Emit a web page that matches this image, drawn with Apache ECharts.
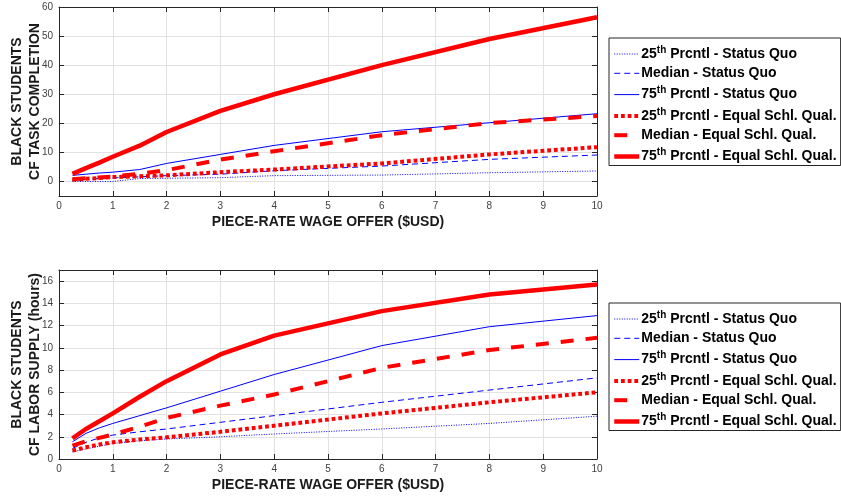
<!DOCTYPE html>
<html><head><meta charset="utf-8">
<script src="https://cdn.jsdelivr.net/npm/echarts@6/dist/echarts.min.js"></script>
<style>html,body{margin:0;padding:0;background:#fff}#c{width:841px;height:497px}</style>
</head><body><div id="c"></div>
<script>
// ---- data ----
const wage = [0.25, 0.5, 0.75, 1, 1.5, 2, 3, 4, 6, 8, 10];
const seriesNames = [
  '25th Prcntl - Status Quo',
  'Median - Status Quo',
  '75th Prcntl - Status Quo',
  '25th Prcntl - Equal Schl. Qual.',
  'Median - Equal Schl. Qual.',
  '75th Prcntl - Equal Schl. Qual.'
];
// top panel: CF task completion
const taskP25SQ  = [0, 0, 0, 0, 1.0, 1.1, 1.3, 2.0, 2.2, 3.0, 3.6];
const taskMedSQ  = [0.5, 0.8, 1.0, 1.2, 1.6, 2.0, 2.5, 3.7, 5.3, 7.6, 9.1];
const taskP75SQ  = [2.1, 2.5, 2.9, 3.2, 4.1, 6.2, 9.3, 12.4, 17.1, 20.2, 23.3];
const taskP25EQ  = [0.6, 0.9, 1.2, 1.5, 1.8, 2.1, 3.2, 4.1, 6.2, 9.3, 11.8];
const taskMedEQ  = [0.8, 1.1, 1.4, 1.7, 2.6, 3.9, 7.5, 10.4, 15.9, 20.1, 22.5];
const taskP75EQ  = [2.6, 4.6, 6.5, 8.5, 12.3, 17.0, 24.3, 30.0, 40.0, 49.0, 56.5];
// bottom panel: CF labor supply (hours)
const hoursP25SQ = [0.65, 0.9, 1.15, 1.4, 1.65, 1.8, 2.0, 2.25, 2.7, 3.2, 3.85];
const hoursMedSQ = [0.95, 1.5, 1.9, 2.15, 2.45, 2.7, 3.3, 3.9, 5.1, 6.2, 7.3];
const hoursP75SQ = [1.55, 2.3, 2.8, 3.2, 3.9, 4.6, 6.1, 7.6, 10.2, 11.9, 12.9];
const hoursP25EQ = [0.75, 1.05, 1.3, 1.5, 1.75, 1.95, 2.45, 3.0, 4.1, 5.1, 6.0];
const hoursMedEQ = [1.2, 1.6, 1.9, 2.2, 2.9, 3.7, 4.8, 5.8, 8.2, 9.8, 10.9];
const hoursP75EQ = [1.85, 2.7, 3.4, 4.1, 5.6, 7.0, 9.4, 11.1, 13.3, 14.8, 15.7];
const xTicks = [0, 1, 2, 3, 4, 5, 6, 7, 8, 9, 10];
const taskTicks = [0, 10, 20, 30, 40, 50, 60];
const hoursTicks = [0, 2, 4, 6, 8, 10, 12, 14, 16];
const xTitle = 'PIECE-RATE WAGE OFFER ($USD)';
const taskTitle = 'BLACK STUDENTS\nCF TASK COMPLETION';
const hoursTitle = 'BLACK STUDENTS\nCF LABOR SUPPLY (hours)';

// ---- styles ----
const FONT = '"Liberation Sans", Arial, sans-serif';
const styles = [
  {color: '#0000ff', width: 1, type: [1, 1.5]},
  {color: '#0000ff', width: 1, type: [6, 4]},
  {color: '#0000ff', width: 1, type: 'solid'},
  {color: '#ff0000', width: 4, type: [3.8, 2.9]},
  {color: '#ff0000', width: 4, type: [13, 12]},
  {color: '#ff0000', width: 4.5, type: 'solid'}
];
const taskData = [taskP25SQ, taskMedSQ, taskP75SQ, taskP25EQ, taskMedEQ, taskP75EQ];
const hoursData = [hoursP25SQ, hoursMedSQ, hoursP75SQ, hoursP25EQ, hoursMedEQ, hoursP75EQ];

const AX = '#262626';
function mainX(gi) {
  return {
    type: 'value', gridIndex: gi, min: 0, max: 10, interval: 1,
    name: xTitle, nameLocation: 'middle', nameGap: 19, nameMoveOverlap: false,
    nameTextStyle: {fontFamily: FONT, fontWeight: 'bold', fontSize: 14, color: '#1a1a1a'},
    axisLine: {show: true, onZero: false, lineStyle: {color: AX, width: 1}},
    axisTick: {show: true, inside: true, length: 5, lineStyle: {color: AX}, customValues: xTicks},
    axisLabel: {fontFamily: FONT, fontSize: 10, color: '#404040', margin: 5, customValues: xTicks},
    splitLine: {show: true, lineStyle: {color: '#e2e2e2', width: 1}}
  };
}
function topX(gi) {
  return {
    type: 'value', gridIndex: gi, position: 'top', min: 0, max: 10, interval: 1,
    axisLine: {show: true, onZero: false, lineStyle: {color: AX, width: 1}},
    axisTick: {show: true, inside: true, length: 5, lineStyle: {color: AX}},
    axisLabel: {show: false}, splitLine: {show: false}
  };
}
function mainY(gi, min, max, ticks, title) {
  return {
    type: 'value', gridIndex: gi, min: min, max: max,
    name: title, nameLocation: 'middle', nameGap: 15, nameRotate: 90, nameMoveOverlap: false,
    nameTextStyle: {fontFamily: FONT, fontWeight: 'bold', fontSize: 14, color: '#1a1a1a', lineHeight: 18},
    axisLine: {show: true, onZero: false, lineStyle: {color: AX, width: 1}},
    axisTick: {show: true, inside: true, length: 5, lineStyle: {color: AX}, customValues: ticks},
    axisLabel: {fontFamily: FONT, fontSize: 10, color: '#404040', margin: 6, customValues: ticks},
    splitLine: {show: true, lineStyle: {color: '#e2e2e2', width: 1}}
  };
}
function rightY(gi, min, max, ticks) {
  return {
    type: 'value', gridIndex: gi, position: 'right', min: min, max: max,
    axisLine: {show: true, onZero: false, lineStyle: {color: AX, width: 1}},
    axisTick: {show: true, inside: true, length: 5, lineStyle: {color: AX}, customValues: ticks},
    axisLabel: {show: false, customValues: ticks}, splitLine: {show: false}
  };
}

const series = [];
function addSeries(dataSets, xi, yi) {
  dataSets.forEach((vals, k) => {
    series.push({
      type: 'line', name: seriesNames[k], xAxisIndex: xi, yAxisIndex: yi,
      data: wage.map((x, i) => [x, vals[i]]),
      symbol: 'none', silent: true, animation: false,
      lineStyle: {color: styles[k].color, width: styles[k].width, type: styles[k].type, cap: 'butt'},
      itemStyle: {color: styles[k].color},
      z: 2 + k
    });
  });
}
addSeries(taskData, 0, 0);
addSeries(hoursData, 2, 2);

function legendFmt(name) {
  const m = name.match(/^(\d+)th(.*)$/);
  if (m) return '{n|' + m[1] + '}{s|th}{n|' + m[2] + '}';
  return '{n|' + name + '}';
}
function legend(top) {
  return {
    orient: 'vertical', left: 609, top: top,
    data: seriesNames.map((n, k) => ({
      name: n,
      itemStyle: {opacity: 0},
      lineStyle: {color: styles[k].color, width: styles[k].width, type: styles[k].type, cap: 'butt'}
    })),
    borderColor: '#262626', borderWidth: 1, borderRadius: 0,
    padding: [7, 4, 2, 3], itemGap: 5.3, itemWidth: 25, itemHeight: 14,
    backgroundColor: '#fff', selectedMode: false,
    formatter: legendFmt,
    textStyle: {
      fontFamily: FONT, color: '#000', padding: [0, 0, 0, -3],
      rich: {
        n: {fontFamily: FONT, fontWeight: 'bold', fontSize: 14, color: '#000'},
        s: {fontFamily: FONT, fontWeight: 'bold', fontSize: 10, color: '#000', padding: [0, 0, 8, 0]}
      }
    }
  };
}

const option = {
  backgroundColor: '#fff',
  animation: false,
  grid: [
    {left: 59, top: 7, width: 538, height: 189, containLabel: false, outerBoundsMode: 'none'},
    {left: 59, top: 270, width: 538, height: 189, containLabel: false, outerBoundsMode: 'none'}
  ],
  xAxis: [mainX(0), topX(0), mainX(1), topX(1)],
  yAxis: [mainY(0, -5, 60, taskTicks, taskTitle), rightY(0, -5, 60, taskTicks),
          mainY(1, 0, 17, hoursTicks, hoursTitle), rightY(1, 0, 17, hoursTicks)],
  legend: [legend(38), legend(303)],
  series: series
};
const chart = echarts.init(document.getElementById('c'), null, {renderer: 'canvas'});
chart.setOption(option);
</script></body></html>
